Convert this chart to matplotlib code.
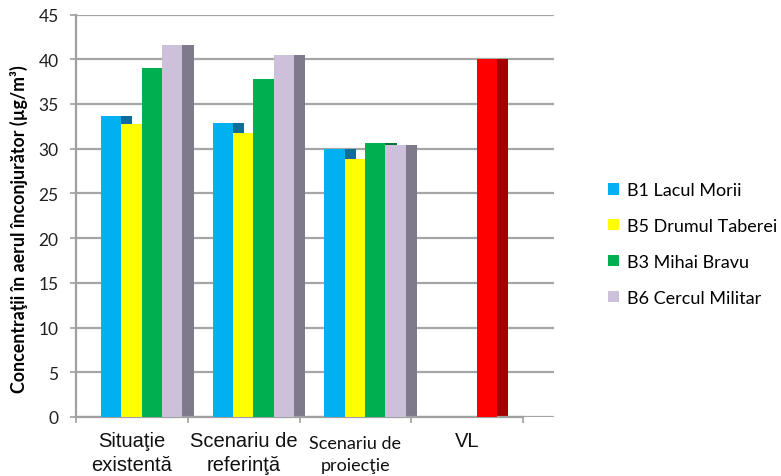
import numpy as np
import matplotlib
matplotlib.use("Agg")
import matplotlib.pyplot as plt
from matplotlib.transforms import ScaledTranslation

# --- data ---
categories = ["Situaţie\nexistentă", "Scenariu de\nreferinţă", "Scenariu de\nproiecţie", "VL"]
series = ["B1 Lacul Morii", "B5 Drumul Taberei", "B3 Mihai Bravu", "B6 Cercul Militar"]
b1 = [33.7, 32.9, 30.0]
b5 = [32.8, 31.8, 28.8]
b3 = [39.0, 37.8, 30.6]
b6 = [41.6, 40.5, 30.45]
vl = [40.0]

front_colors = ["#00B0F0", "#FFFF00", "#00B050", "#CCC0DA"]
side_colors = ["#0E6E99", "#A6A600", "#007538", "#7F7A8B"]
vl_front, vl_side = "#FF0000", "#A50000"

# --- geometry of the fake 3D columns (in category units) ---
start = 0.2215
width = 0.1826
depth = 0.10

plt.rcParams["font.family"] = ["Lato", "DejaVu Sans"]

fig = plt.figure(figsize=(7.81, 4.77), dpi=100)
ax = fig.add_axes([76 / 781, 59 / 477, 478 / 781, 402.5 / 477])

x = np.arange(3)
for k, vals in enumerate([b1, b5, b3, b6]):
    xs = x + start + k * width
    # dark side first, front faces on top
    ax.bar(xs + width, vals, width=depth, align="edge", color=side_colors[k], zorder=2)
    ax.bar(xs, vals, width=width, align="edge", color=front_colors[k], zorder=3,
           label=series[k])

xv = np.array([3]) + start + 2 * width
ax.bar(xv + width, vl, width=depth, align="edge", color=vl_side, zorder=2)
ax.bar(xv, vl, width=width, align="edge", color=vl_front, zorder=3)

ax.set_xlim(0, 478 / 111.75)
ax.set_ylim(0, 45)
ax.set_yticks(np.arange(0, 46, 5))

ax.set_axisbelow(True)
ax.yaxis.grid(True, color="#A6A6A6", linewidth=1.6)
for s in ["top", "right"]:
    ax.spines[s].set_visible(False)
ax.spines["left"].set_color("#A0A0A0")
ax.spines["left"].set_linewidth(1.6)
ax.spines["bottom"].set_color("#A0A0A0")
ax.spines["bottom"].set_linewidth(1.6)
ax.spines["bottom"].set_bounds(0, 4)

ax.tick_params(axis="y", length=4.5, width=1.2, color="#A0A0A0", pad=8,
               labelsize=12.5, labelcolor="#202020")
ax.set_xticks(np.arange(0, 5))
ax.set_xticklabels([])
ax.tick_params(axis="x", which="major", length=4.5, width=1.2, color="#A0A0A0")
ax.set_xticks(np.arange(4) + 0.5, minor=True)
ax.set_xticklabels(categories, minor=True)
ax.tick_params(axis="x", which="minor", length=0, pad=10, labelsize=14.5,
               labelcolor="#111111")
for i, lab in enumerate(ax.get_xticklabels(minor=True)):
    if i == 2:
        lab.set_family(["Lato", "DejaVu Sans"])
        lab.set_fontsize(13)
        lab.set_linespacing(1.45)
        lab.set_transform(lab.get_transform()
                          + ScaledTranslation(0, -4 / 100, fig.dpi_scale_trans))
    else:
        lab.set_family(["Liberation Sans", "DejaVu Sans"])
        lab.set_linespacing(1.35)

ax.set_ylabel("Concentraţii în aerul înconjurător (µg/m³)", fontsize=12.8,
              fontweight="bold")
ax.yaxis.set_label_coords(-0.1, 0.47)

fig.legend(loc="center left", bbox_to_anchor=(608 / 781, 1 - 245 / 477),
           frameon=False, fontsize=13, handlelength=0.6, handleheight=0.6,
           handletextpad=0.45, labelspacing=1.1, borderpad=0, borderaxespad=0)

fig.savefig("out.png", dpi=100)
